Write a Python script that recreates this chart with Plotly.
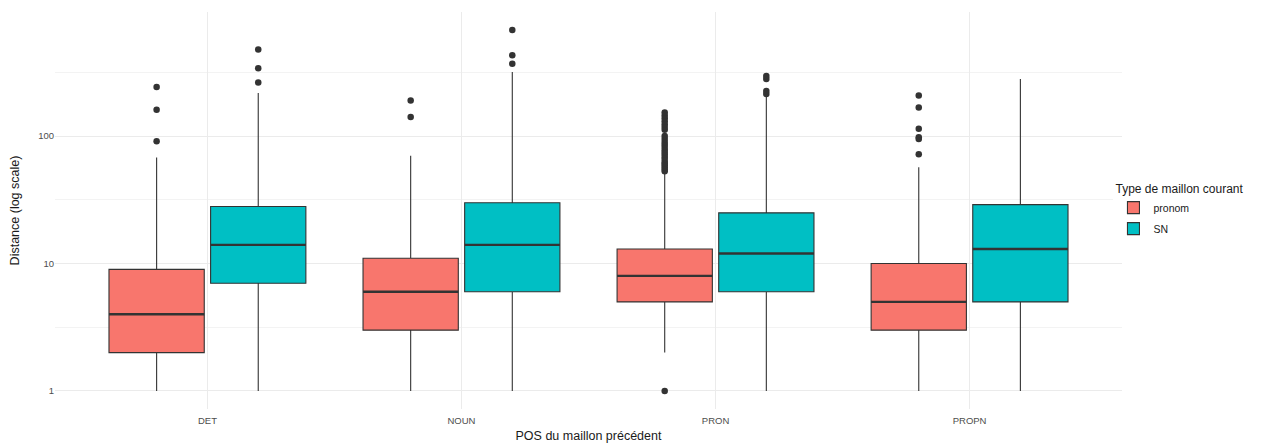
import numpy as np
import plotly.graph_objects as go

# Categories (POS of the preceding link) and the two link types
categories = ["DET", "NOUN", "PRON", "PROPN"]
groups = ["pronom", "SN"]

# Box statistics per category: lower whisker, Q1, median, Q3, upper whisker
pronom_low = [1, 1, 2, 1]
pronom_q1 = [2, 3, 5, 3]
pronom_med = [4, 6, 8, 5]
pronom_q3 = [9, 11, 13, 10]
pronom_high = [68, 70, 52, 57]

sn_low = [1, 1, 1, 1]
sn_q1 = [7, 6, 6, 5]
sn_med = [14, 14, 12, 13]
sn_q3 = [28, 30, 25, 29]
sn_high = [218, 318, 205, 281]

# Outlying distances per category
pronom_out = [
    [91, 161, 243],
    [141, 190],
    [1, 53, 55, 57, 59, 61, 63, 66, 69, 72, 75, 78, 82, 86, 90, 95, 100,
     112, 118, 124, 131, 138, 145, 153],
    [72, 95, 98, 114, 168, 208],
]
sn_out = [
    [263, 341, 478],
    [369, 432, 680],
    [214, 226, 281, 297],
    [],
]

# y-axis breaks
y_ticks = [1, 10, 100]
y_ticklabels = ["1", "10", "100"]

# styling
colors = {"pronom": "#F8766D", "SN": "#00BFC4"}
line_col = "#333333"
dodge = 0.2
box_w = 0.375
font_family = "Liberation Sans, Arial, sans-serif"

series = {
    "pronom": (pronom_low, pronom_q1, pronom_med, pronom_q3, pronom_high, pronom_out),
    "SN": (sn_low, sn_q1, sn_med, sn_q3, sn_high, sn_out),
}

fig = go.Figure()
idx = np.arange(len(categories))

for g, sign in zip(groups, [-1, 1]):
    low, q1, med, q3, high, outs = series[g]
    xpos = idx + sign * dodge
    fig.add_trace(go.Box(
        name=g, x=xpos, q1=q1, median=med, q3=q3,
        lowerfence=low, upperfence=high,
        width=box_w, fillcolor=colors[g],
        line=dict(color=line_col, width=1.1),
        whiskerwidth=0, boxpoints=False,
        legendgroup=g, showlegend=True, hoverinfo="skip",
    ))
    # thicker median bars
    mx, my = [], []
    for xi, m in zip(xpos, med):
        mx += [xi - box_w / 2, xi + box_w / 2, None]
        my += [m, m, None]
    fig.add_trace(go.Scatter(
        x=mx, y=my, mode="lines",
        line=dict(color=line_col, width=2.4),
        showlegend=False, legendgroup=g, hoverinfo="skip",
    ))
    # outliers
    ox, oy = [], []
    for xi, vals in zip(xpos, outs):
        ox += [xi] * len(vals)
        oy += vals
    fig.add_trace(go.Scatter(
        x=ox, y=oy, mode="markers",
        marker=dict(color=line_col, size=6.5),
        showlegend=False, legendgroup=g, hoverinfo="skip",
    ))

ymax = np.log10(max(max(v) for v in pronom_out + sn_out if v))
ypad = 0.05 * ymax

fig.update_layout(
    width=1279, height=443,
    margin=dict(l=55, r=157, t=12, b=34),
    paper_bgcolor="white", plot_bgcolor="white",
    font=dict(family=font_family, color="#000000"),
    legend=dict(
        title=dict(text="Type de maillon courant", font=dict(size=12, color="#1a1a1a")),
        x=0.992, xanchor="left", y=0.5, yanchor="middle",
        font=dict(size=10.5, color="#1a1a1a"),
        tracegroupgap=2, itemwidth=30,
    ),
    xaxis=dict(
        range=[-0.6, len(categories) - 0.4],
        tickmode="array", tickvals=idx, ticktext=categories,
        showgrid=True, gridcolor="#EBEBEB", gridwidth=1,
        zeroline=False, showline=False, ticks="", automargin=False,
        ticklabelstandoff=4,
        tickfont=dict(size=9.5, color="#4D4D4D"),
        title=dict(text="POS du maillon précédent", font=dict(size=12.5, color="#1a1a1a")),
    ),
    yaxis=dict(
        type="log", range=[-ypad, ymax + ypad],
        tickmode="array", tickvals=y_ticks, ticktext=y_ticklabels,
        showgrid=True, gridcolor="#EBEBEB", gridwidth=1,
        minor=dict(tickmode="array", tickvals=[10 ** 0.5, 10 ** 1.5, 10 ** 2.5],
                   showgrid=True, gridcolor="#F3F3F3", gridwidth=1, ticks=""),
        zeroline=False, showline=False, ticks="", automargin=False,
        tickfont=dict(size=9.5, color="#4D4D4D"),
        title=dict(text="Distance (log scale)", font=dict(size=12.5, color="#1a1a1a")),
    ),
)

fig.write_html("out.html")
